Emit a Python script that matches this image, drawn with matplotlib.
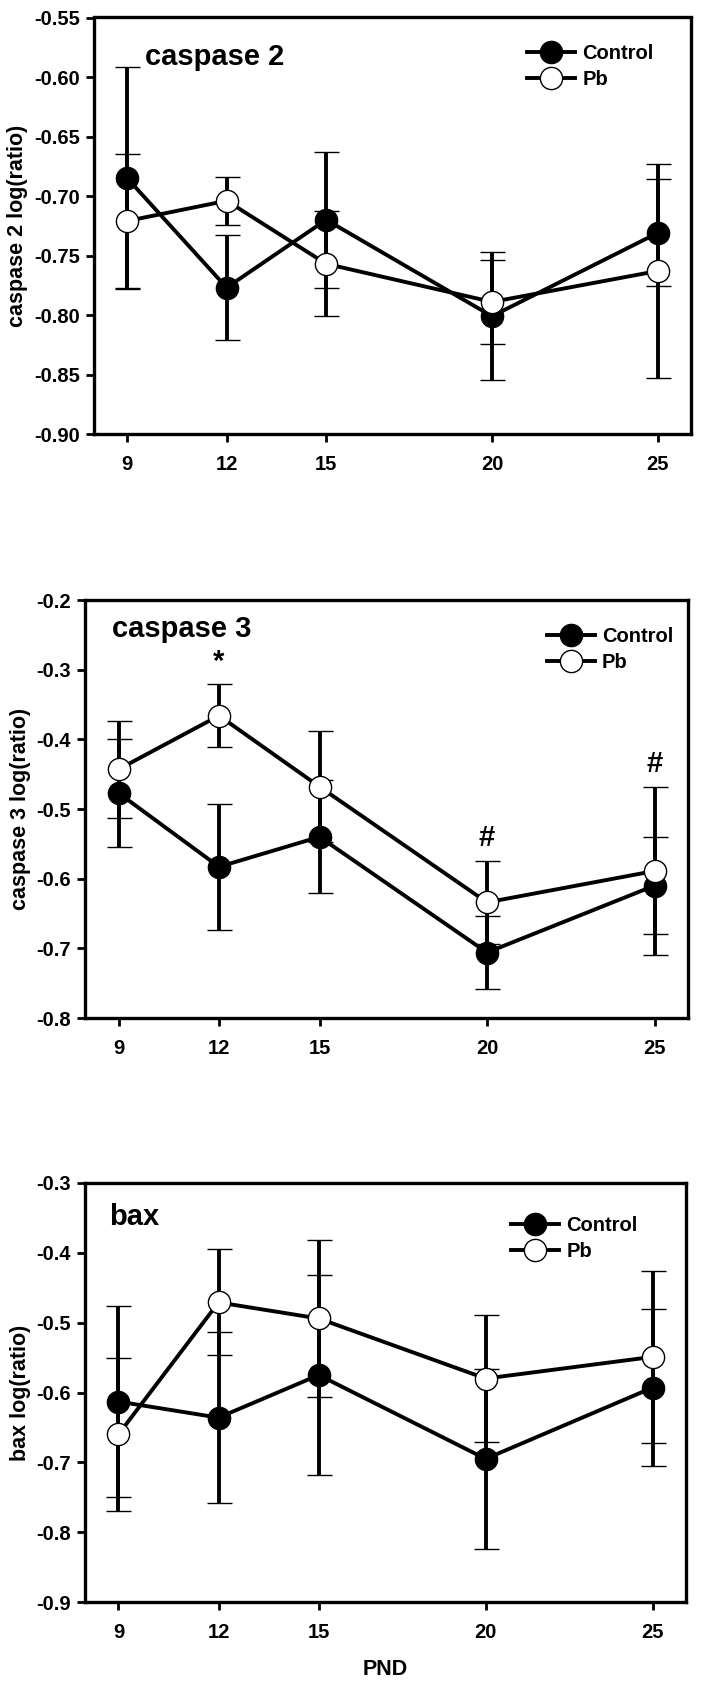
import matplotlib
matplotlib.use("Agg")
import matplotlib.pyplot as plt
from matplotlib.ticker import FormatStrFormatter
from matplotlib.lines import Line2D

plt.rcParams['font.family'] = ['Liberation Sans', 'DejaVu Sans']
plt.rcParams['font.weight'] = 'bold'

pnd = [9, 12, 15, 20, 25]

c2_ctrl = [-0.685, -0.777, -0.720, -0.801, -0.731]
c2_ctrl_err = [0.093, 0.044, 0.057, 0.054, 0.045]
c2_pb = [-0.721, -0.704, -0.757, -0.789, -0.763]
c2_pb_err = [0.056, 0.020, 0.044, 0.035, 0.090]

c3_ctrl = [-0.477, -0.583, -0.540, -0.706, -0.610]
c3_ctrl_err = [0.077, 0.090, 0.081, 0.053, 0.070]
c3_pb = [-0.443, -0.366, -0.468, -0.634, -0.589]
c3_pb_err = [0.070, 0.045, 0.080, 0.060, 0.121]

bax_ctrl = [-0.613, -0.636, -0.575, -0.695, -0.593]
bax_ctrl_err = [0.137, 0.122, 0.143, 0.129, 0.112]
bax_pb = [-0.660, -0.471, -0.494, -0.580, -0.549]
bax_pb_err = [0.109, 0.076, 0.113, 0.091, 0.123]

c3_marks = ['*', '#', '#']
c3_mark_x = [12, 20, 25]

W, H = 703, 1685
fig = plt.figure(figsize=(W / 100, H / 100), dpi=100)


def rect(l, r, t, b):
    return [l / W, 1 - b / H, (r - l) / W, (b - t) / H]


LW = 2.8
MS = 16

panels = [
    dict(rect=rect(94, 691, 17.5, 434), ctrl=c2_ctrl, ce=c2_ctrl_err, pb=c2_pb, pe=c2_pb_err,
         ylim=(-0.90, -0.55), step=0.05, fmt='%.2f', title='caspase 2', tpos=(0.085, 0.905),
         ylabel='caspase 2 log(ratio)', lpos=(-0.11, 0.5), leg=(0.712, 0.955)),
    dict(rect=rect(85, 688, 600, 1018), ctrl=c3_ctrl, ce=c3_ctrl_err, pb=c3_pb, pe=c3_pb_err,
         ylim=(-0.8, -0.2), step=0.1, fmt='%.1f', title='caspase 3', tpos=(0.045, 0.93),
         ylabel='caspase 3 log(ratio)', lpos=(-0.09, 0.5), leg=(0.752, 0.955)),
    dict(rect=rect(85, 686, 1183, 1602), ctrl=bax_ctrl, ce=bax_ctrl_err, pb=bax_pb, pe=bax_pb_err,
         ylim=(-0.9, -0.3), step=0.1, fmt='%.1f', title='bax', tpos=(0.04, 0.92),
         ylabel='bax log(ratio)', lpos=(-0.09, 0.5), leg=(0.695, 0.94)),
]

axes = []
for p in panels:
    ax = fig.add_axes(p['rect'])
    axes.append(ax)
    ax.errorbar(pnd, p['ctrl'], yerr=p['ce'], color='black', lw=LW, marker='o',
                ms=MS, mfc='black', mec='black', mew=1.0, capsize=9, capthick=LW,
                elinewidth=LW, zorder=3)
    ax.errorbar(pnd, p['pb'], yerr=p['pe'], color='black', lw=LW, marker='o',
                ms=MS, mfc='white', mec='black', mew=1.0, capsize=9, capthick=LW,
                elinewidth=LW, zorder=4)
    lo, hi = p['ylim']
    ax.set_ylim(lo, hi)
    ax.set_xlim(8, 26)
    n = int(round((hi - lo) / p['step']))
    ax.set_yticks([lo + i * p['step'] for i in range(n + 1)])
    ax.yaxis.set_major_formatter(FormatStrFormatter(p['fmt']))
    ax.set_xticks(pnd)
    ax.set_xticklabels([str(v) for v in pnd])
    ax.tick_params(axis='y', direction='out', length=6, width=2.0, labelsize=14.5, pad=4)
    ax.tick_params(axis='x', direction='out', length=6, width=2.0, labelsize=14.5, pad=9)
    for lab in ax.get_xticklabels() + ax.get_yticklabels():
        lab.set_fontweight('bold')
    for s in ax.spines.values():
        s.set_linewidth(2.4)
    ax.set_ylabel(p['ylabel'], fontsize=15.5, fontweight='bold')
    ax.yaxis.set_label_coords(*p['lpos'])
    ax.text(p['tpos'][0], p['tpos'][1], p['title'], transform=ax.transAxes,
            fontsize=21, fontweight='bold', va='center', ha='left')
    handles = [
        Line2D([], [], color='black', lw=LW, marker='o', ms=MS, mfc='black', mec='black', mew=1.0),
        Line2D([], [], color='black', lw=LW, marker='o', ms=MS, mfc='white', mec='black', mew=1.0),
    ]
    ax.legend(handles, ['Control', 'Pb'], loc='upper left', bbox_to_anchor=p['leg'],
              frameon=False, handlelength=2.4, handletextpad=0.35, labelspacing=0.35,
              borderaxespad=0, prop={'weight': 'bold', 'size': 14.5})

ax3 = axes[1]
for m, x in zip(c3_marks, c3_mark_x):
    i = pnd.index(x)
    top = c3_pb[i] + c3_pb_err[i]
    ax3.text(x, top + 0.012, m, ha='center', va='bottom', fontsize=21, fontweight='bold')

axes[2].set_xlabel('PND', fontsize=15.5, fontweight='bold', labelpad=12)

fig.savefig('out.png', dpi=100)
